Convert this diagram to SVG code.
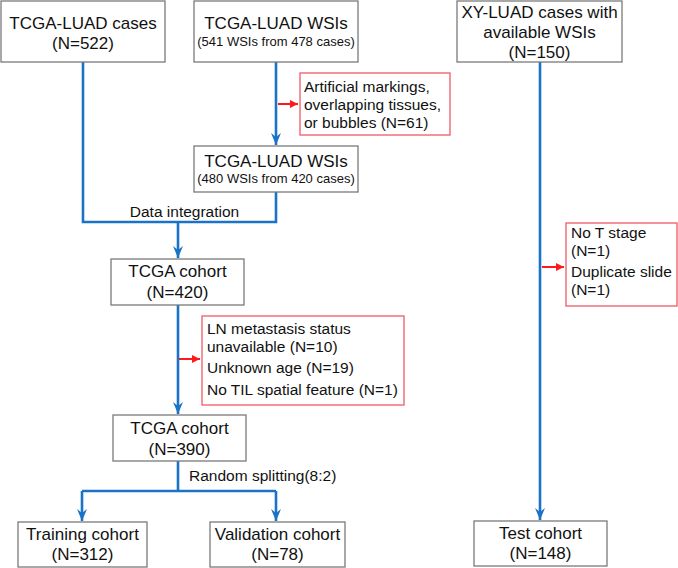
<svg xmlns="http://www.w3.org/2000/svg" width="678" height="568" viewBox="0 0 678 568">
<defs>
<style>
text{font-family:"Liberation Sans",Arial,sans-serif;fill:#111;}
.box{fill:#fff;stroke:#7a7a7a;stroke-width:1.3;}
.rbox{fill:#fff;stroke:#ee5a66;stroke-width:1.3;}
.t{font-size:17px;text-anchor:middle;}
.s{font-size:13px;text-anchor:middle;}
.r{font-size:15.5px;}
.lbl{font-size:15.5px;}
.blue{fill:none;stroke:#1a73c6;stroke-width:2.6;}
.red{fill:none;stroke:#ff1a1a;stroke-width:2;}
</style>
<marker id="ab" markerUnits="userSpaceOnUse" viewBox="-13 -6 14 12" refX="0" refY="0" markerWidth="14" markerHeight="12" orient="auto">
<path d="M-12,-5 L0,0 L-12,5 L-8,0 Z" fill="#1a73c6"/>
</marker>
<marker id="ar" markerUnits="userSpaceOnUse" viewBox="-8 -5 9 10" refX="0" refY="0" markerWidth="9" markerHeight="10" orient="auto">
<path d="M-8,-4 L0,0 L-8,4 Z" fill="#ff1a1a"/>
</marker>
</defs>

<g id="connectors">
<path class="blue" d="M83,62 V222 H276 V192"/>
<path class="blue" d="M276,62 V145" marker-end="url(#ab)"/>
<path class="blue" d="M178,222 V258" marker-end="url(#ab)"/>
<path class="blue" d="M178,305 V414" marker-end="url(#ab)"/>
<path class="blue" d="M178,461 V491"/>
<path class="blue" d="M82,491 H276"/>
<path class="blue" d="M82,491 V521" marker-end="url(#ab)"/>
<path class="blue" d="M276,491 V521" marker-end="url(#ab)"/>
<path class="blue" d="M540,62 V520" marker-end="url(#ab)"/>
<path class="red" d="M278,104 H298" marker-end="url(#ar)"/>
<path class="red" d="M179,359 H200" marker-end="url(#ar)"/>
<path class="red" d="M542,267 H564" marker-end="url(#ar)"/>
<text class="lbl" x="184.5" y="217" text-anchor="middle">Data integration</text>
<text class="lbl" x="189" y="481">Random splitting(8:2)</text>
</g>

<g id="tcga-cases">
<rect class="box" x="1" y="1" width="164" height="61"/>
<text class="t" x="83" y="29">TCGA-LUAD cases</text>
<text class="t" x="83" y="49">(N=522)</text>
</g>

<g id="tcga-wsis">
<rect class="box" x="194" y="1" width="164" height="61"/>
<text class="t" x="276" y="29">TCGA-LUAD WSIs</text>
<text class="s" x="276" y="46">(541 WSIs from 478 cases)</text>
</g>

<g id="excl-1">
<rect class="rbox" x="300" y="73" width="150" height="62"/>
<text class="r" x="304" y="92">Artificial markings,</text>
<text class="r" x="304" y="110">overlapping tissues,</text>
<text class="r" x="304" y="128">or bubbles (N=61)</text>
</g>

<g id="tcga-wsis-2">
<rect class="box" x="194" y="146" width="164" height="46"/>
<text class="t" x="276" y="167">TCGA-LUAD WSIs</text>
<text class="s" x="276" y="183">(480 WSIs from 420 cases)</text>
</g>

<g id="tcga-cohort-420">
<rect class="box" x="111" y="259" width="133" height="46"/>
<text class="t" x="177.5" y="277">TCGA cohort</text>
<text class="t" x="177.5" y="298">(N=420)</text>
</g>

<g id="excl-2">
<rect class="rbox" x="202" y="316" width="202" height="89"/>
<text class="r" x="207" y="334">LN metastasis status</text>
<text class="r" x="207" y="352">unavailable (N=10)</text>
<text class="r" x="207" y="373">Unknown age (N=19)</text>
<text class="r" x="207" y="395">No TIL spatial feature (N=1)</text>
</g>

<g id="tcga-cohort-390">
<rect class="box" x="113" y="415" width="133" height="46"/>
<text class="t" x="179.5" y="434">TCGA cohort</text>
<text class="t" x="179.5" y="455">(N=390)</text>
</g>

<g id="training">
<rect class="box" x="18" y="522" width="129" height="45"/>
<text class="t" x="82.5" y="540">Training cohort</text>
<text class="t" x="82.5" y="560">(N=312)</text>
</g>

<g id="validation">
<rect class="box" x="210" y="522" width="135" height="45"/>
<text class="t" x="277.5" y="540">Validation cohort</text>
<text class="t" x="277.5" y="560">(N=78)</text>
</g>

<g id="xy-cases">
<rect class="box" x="457" y="1" width="165" height="61"/>
<text class="t" x="539.5" y="18">XY-LUAD cases with</text>
<text class="t" x="539.5" y="38">available WSIs</text>
<text class="t" x="539.5" y="58">(N=150)</text>
</g>

<g id="excl-3">
<rect class="rbox" x="566" y="223" width="111" height="83"/>
<text class="r" x="571" y="238">No T stage</text>
<text class="r" x="571" y="256">(N=1)</text>
<text class="r" x="571" y="277">Duplicate slide</text>
<text class="r" x="571" y="295">(N=1)</text>
</g>

<g id="test">
<rect class="box" x="474" y="521" width="133" height="45"/>
<text class="t" x="540.5" y="539">Test cohort</text>
<text class="t" x="540.5" y="559">(N=148)</text>
</g>
</svg>
